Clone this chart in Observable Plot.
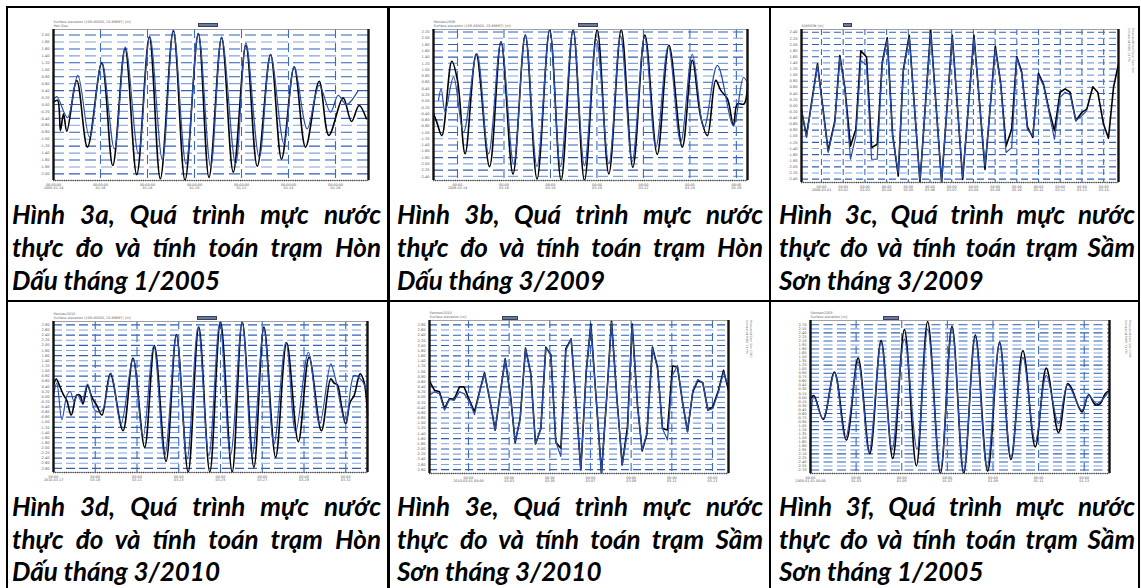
<!DOCTYPE html>
<html>
<head>
<meta charset="utf-8">
<script src="https://cdn.jsdelivr.net/npm/d3@7"></script>
<script src="https://cdn.jsdelivr.net/npm/@observablehq/plot@0.6"></script>
<style>
  html, body { margin: 0; padding: 0; background: #fff; }
  #page { position: relative; width: 1141px; height: 588px; overflow: hidden; background: #fff; }
  .bd { position: absolute; background: #000; }
  .cap { position: absolute; font-family: Lato, "Open Sans", sans-serif; font-style: italic; font-weight: 700;
         font-size: 26px; line-height: 33px; color: #000; }
  .cap div.j { text-align: justify; text-align-last: justify; }
  .cap div.l { text-align: left; }
  .chart { position: absolute; }
  .sw { position: absolute; height: 2px; background: #6c7aa3; border: 1px solid #3a3f55; }
  .side { position: absolute; writing-mode: vertical-rl; font-family: "DejaVu Sans", sans-serif; font-size: 3px;
          line-height: 3.4px; color: #777; white-space: nowrap; }
</style>
</head>
<body>
<div id="page"></div>
<script>
// ---------------- DATA (time in hours, water level in m) ----------------
const c1Levels = [2.0,1.8,1.6,1.4,1.2,1.0,0.8,0.6,0.4,0.2,0,-0.2,-0.4,-0.6,-0.8,-1.0,-1.2,-1.4,-1.6,-1.8,-2.0];
const c1TickHours = [0,48,96,144,192,240,288];
const c1TickLabels = ["00:00:00\n2005-01-14","00:00:00\n01-16","00:00:00\n01-18","00:00:00\n01-20","00:00:00\n01-22","00:00:00\n01-24","00:00:00\n01-26"];
const c1Measured = [[0,0.07],[4.1,0.12],[7.1,-0.75],[10.2,-0.27],[13.6,-0.77],[23.8,0.69],[34.7,-1.23],[49.3,1.19],[60.5,-1.76],[73.1,1.61],[85,-2.02],[97.9,1.94],[109.1,-2.14],[122.4,2.12],[134.3,-2.18],[147.9,2.04],[158.8,-2.10],[171.7,1.92],[183.6,-1.95],[196.5,1.70],[208.1,-1.78],[221.7,1.44],[232.9,-1.57],[245.8,1.08],[257.4,-1.23],[271.3,0.67],[281.2,-0.89],[295.8,0.19],[304.3,-0.49],[312.1,-0.03],[319.6,-0.41]];
const c1Computed = [[0,0.12],[3.4,0.23],[14.3,-0.38],[24.8,0.84],[36.7,-0.94],[49.3,1.22],[62.2,-1.28],[73.4,1.65],[86.7,-1.42],[98.3,1.96],[111.2,-1.60],[122.4,2.15],[135.3,-1.71],[147.9,2.04],[160.5,-1.79],[171.7,1.94],[186,-1.71],[196.5,1.77],[210.1,-1.52],[221.7,1.43],[235.3,-1.13],[245.8,1.10],[259.1,-0.70],[271.3,0.55],[282.9,-0.22],[290.7,0.26],[299.2,0],[311.1,0.40]];

const c2Levels = [2.2,2.0,1.8,1.6,1.4,1.2,1.0,0.8,0.6,0.4,0.2,0,-0.2,-0.4,-0.6,-0.8,-1.0,-1.2,-1.4,-1.6,-1.8,-2.0,-2.2,-2.4];
const c2TickHours = [0,48,96,144,192,240,288];
const c2TickLabels = ["00:00\n2009-03-14","00:00\n03-16","00:00\n03-18","00:00\n03-20","00:00\n03-22","00:00\n03-24","00:00\n03-26"];
const c2Measured = [[-24.8,-0.40],[-21.4,-0.67],[-16.2,-1.10],[-5.9,1.27],[0,0.66],[7.9,-1.68],[19.3,1.49],[33.1,-2.09],[44.9,1.89],[57.3,-2.32],[70.0,2.10],[82.1,-2.48],[95.2,2.27],[107,-2.52],[119.4,2.27],[131.1,-2.52],[144.2,2.27],[156.3,-2.32],[169.1,2.27],[181.1,-2.11],[193.5,2.10],[206.3,-1.70],[218.4,1.78],[232.2,-1.47],[242.5,1.30],[251.2,-0.51],[258.1,-1.10],[266.7,0.66],[271.9,0.34],[278.8,0.07],[285,-0.78],[289.1,-0.09],[296,-0.09],[299.5,0.55]];
const c2Computed = [[-19.7,0.02],[-16.9,0.39],[-12.8,-0.35],[-4.1,0.77],[6.2,-0.99],[20.0,1.51],[32.1,-1.68],[44.9,1.89],[58,-2.00],[70,2.10],[82.1,-2.08],[95.2,2.24],[106.3,-2.08],[119.4,2.24],[131.1,-2.06],[143.5,1.96],[156.3,-2.00],[168.4,2.07],[180.4,-1.92],[193.2,2.04],[204.9,-1.47],[217.7,1.75],[230.5,-1.31],[242.5,1.49],[254.6,-0.85],[268.4,1.14],[285,-0.78],[295.3,0.75],[299.5,0.58]];

const c3Levels = [2.4,2.2,2.0,1.8,1.6,1.4,1.2,1.0,0.8,0.6,0.4,0.2,0,-0.2,-0.4,-0.6,-0.8,-1.0,-1.2,-1.4,-1.6,-1.8,-2.0,-2.2,-2.4];
const c3TickHours = [0,24,48,72,96,120,144,168,192,216,240,264,288,312];
const c3TickLabels = ["00:00\n2009-03-01","00:00\n03-02","00:00\n03-03","00:00\n03-04","00:00\n03-05","00:00\n03-06","00:00\n03-07","00:00\n03-08","00:00\n03-09","00:00\n03-10","00:00\n03-11","00:00\n03-12","00:00\n03-13","00:00\n03-14"];
const c3Measured = [[-22.1,-0.16],[-16.6,-0.99],[-4.4,1.37],[7.4,-1.48],[14.8,-0.49],[20.3,1.64],[25.8,0.60],[32.1,-1.32],[38.0,-0.77],[43.5,1.79],[49.8,1.59],[55.4,-1.37],[61.6,-1.26],[67.2,1.42],[72.7,2.22],[78.6,-0.93],[84.9,-2.30],[90.4,1.15],[97.0,2.30],[108.9,-2.50],[120.7,2.48],[132.8,-2.50],[144.6,2.30],[156.1,-2.41],[168.6,2.30],[180.8,-2.08],[192.2,1.95],[198.2,0.71],[204.1,-1.32],[210.3,-0.77],[215.9,1.61],[221.4,1.10],[227.7,-0.69],[233.6,-1.04],[239.9,1.06],[245.4,0.71],[250.9,-0.05],[257.6,-0.82],[263.8,0.44],[269.4,0.55],[274.9,0.44],[281.2,-0.49],[287.8,-0.22],[293.4,-0.11],[300.0,0.62],[305.5,0.44],[311.8,-0.60],[317.3,-1.06],[322.9,0.60],[328.4,1.37]];
const c3Computed = [[-22.1,-0.10],[-16.6,-1.04],[-4.4,1.32],[7.4,-1.53],[14.8,-0.55],[20.3,1.59],[25.8,0.55],[32.1,-1.75],[38.0,-0.99],[43.5,1.48],[49.8,1.32],[55.4,-1.75],[61.6,-1.75],[67.2,1.37],[72.7,2.16],[78.6,-0.99],[84.9,-2.19],[90.4,1.10],[97.0,2.22],[108.9,-2.47],[120.7,2.36],[132.8,-2.47],[144.6,2.25],[156.1,-2.33],[168.6,2.22],[180.8,-1.97],[192.2,1.86],[198.2,0.66],[204.1,-1.53],[210.3,-1.37],[215.9,1.57],[221.4,1.04],[227.7,-0.77],[233.6,-0.99],[239.9,0.99],[245.4,0.66],[250.9,-0.11],[257.6,-1.10],[263.8,0.27],[269.4,0.44],[274.9,0.36],[281.2,-0.49],[287.8,-0.33],[293.4,-0.16]];

const c4Levels = [2.8,2.6,2.4,2.2,2.0,1.8,1.6,1.4,1.2,1.0,0.8,0.6,0.4,0.2,0,-0.2,-0.4,-0.6,-0.8,-1.0,-1.2,-1.4,-1.6,-1.8,-2.0,-2.2,-2.4,-2.6,-2.8];
const c4TickHours = [0,48,96,144,192,240,288,336];
const c4TickLabels = ["00:00\n2010-03-17","00:00\n03-19","00:00\n03-21","00:00\n03-23","00:00\n03-25","00:00\n03-27","00:00\n03-29","00:00\n03-31"];
const c4Measured = [[0,0.43],[3.1,0.69],[7.7,0.36],[11.5,0.07],[15.4,-0.16],[20.4,-0.72],[26.9,0.07],[30.7,0.04],[33.8,-0.29],[39.2,0.43],[44.2,-0.03],[49.9,-0.35],[55.7,-0.72],[65.3,0.89],[79.9,-1.33],[91.4,1.50],[104.8,-1.98],[116.0,1.99],[129.4,-2.53],[141.3,2.41],[154.8,-2.94],[167.0,2.71],[179.7,-2.94],[192.0,2.92],[205.4,-2.94],[217.0,2.92],[230.4,-2.76],[241.9,2.71],[255.4,-2.37],[268.0,2.10],[281.5,-1.76],[293.8,1.54],[308.0,-1.33],[318.7,0.69],[322.6,0.53],[326.4,0.46],[331.0,-0.35],[336.0,-1.07],[341.0,-0.22],[345.6,0.04],[352.5,0.89],[357.1,0.56],[361.0,-0.74]];
const c4Computed = [[0,0.04],[3.8,0.53],[9.6,-0.90],[15.4,0.04],[19.2,0.20],[23.8,-0.20],[27.6,0.07],[32.6,-0.20],[39.2,0.49],[48.0,-0.55],[55.7,-0.55],[66.0,0.92],[77.6,-1.07],[91.4,1.47],[102.9,-1.59],[115.2,1.99],[127.9,-2.30],[141.3,2.38],[153.6,-2.43],[166.3,2.71],[178.6,-2.30],[191.2,2.88],[203.5,-2.28],[217.0,2.90],[228.5,-2.28],[241.9,2.64],[253.4,-1.85],[267.3,2.12],[278.4,-1.39],[293.0,1.73],[306.0,-1.07],[318.7,1.28],[323.7,0.76],[336.0,-1.03],[345.6,0.82],[355.2,0.59],[361.0,0.10]];

const c5Levels = [2.8,2.6,2.4,2.2,2.0,1.8,1.6,1.4,1.2,1.0,0.8,0.6,0.4,0.2,0,-0.2,-0.4,-0.6,-0.8,-1.0,-1.2,-1.4,-1.6,-1.8,-2.0,-2.2,-2.4,-2.6,-2.8];
const c5TickHours = [0,48,96,144,192,240,288];
const c5TickLabels = ["00:00\n2010-03-01 00:00","00:00\n03-03","00:00\n03-05","00:00\n03-07","00:00\n03-09","00:00\n03-11","00:00\n03-13"];
const c5Measured = [[-46.0,0.62],[-40.1,0.27],[-34.2,0.21],[-28.3,-0.44],[-22.4,-0.05],[-16.9,-0.08],[-10.6,0.40],[-5.1,0.40],[1.2,-0.12],[7.1,-0.56],[13.0,0.21],[18.9,0.95],[25.6,-0.18],[31.5,-1.27],[37.4,0.14],[43.3,1.49],[50.0,-0.05],[55.1,-1.76],[61.0,-0.82],[67.3,1.90],[73.6,0.91],[79.1,-1.81],[85.4,-1.21],[91.3,1.94],[97.2,1.64],[103.1,-1.74],[109.0,-1.97],[114.9,1.87],[121.2,2.26],[127.1,-0.31],[132.6,-2.81],[138.9,0.97],[144.4,2.83],[150.7,-0.05],[157.0,-2.94],[163.3,0.08],[168.8,2.96],[175.1,0.01],[181.4,-2.62],[187.7,-1.14],[193.2,2.83],[199.5,-0.31],[205.0,-2.08],[210.5,-1.44],[217.2,1.94],[223.1,1.17],[229.0,-1.21],[234.9,-1.27],[240.8,1.21],[246.7,1.17],[252.6,-0.18],[258.5,-1.33],[264.8,0.21],[270.7,0.65],[276.6,0.56],[282.5,-0.50],[288.4,-0.37],[295.1,0.27],[301.0,1.04],[306.9,0.27]];
const c5Computed = [[-46.0,0.08],[-40.1,0.21],[-34.2,0.14],[-28.3,-0.50],[-22.4,-0.08],[-16.9,-0.12],[-10.6,0.21],[-5.1,0.14],[1.2,-0.18],[7.1,-0.67],[13.0,0.18],[18.9,0.91],[25.6,-0.18],[31.5,-1.27],[37.4,0.12],[43.3,1.46],[50.0,-0.08],[55.1,-1.72],[61.0,-0.85],[67.3,1.87],[73.6,0.87],[79.1,-1.81],[85.4,-1.23],[91.3,1.90],[97.2,1.68],[103.1,-1.72],[109.0,-2.29],[114.9,1.81],[121.2,2.26],[127.1,-0.33],[132.6,-2.81],[138.9,0.95],[144.4,2.77],[150.7,-0.08],[157.0,-2.94],[163.3,0.05],[168.8,2.90],[175.1,-0.01],[181.4,-2.62],[187.7,-1.33],[193.2,2.77],[199.5,-0.33],[205.0,-2.04],[210.5,-1.40],[217.2,1.90],[223.1,1.10],[229.0,-1.21],[234.9,-1.65],[240.8,0.85],[246.7,1.23],[252.6,-0.18],[258.5,-1.33],[264.8,0.27],[270.7,0.69],[276.6,0.56],[282.5,-0.50],[288.4,-0.44],[295.1,0.21],[301.0,0.97],[306.9,0.40]];

const c6Levels = [2.7,2.55,2.4,2.25,2.1,1.95,1.8,1.65,1.5,1.35,1.2,1.05,0.9,0.75,0.6,0.45,0.3,0.15,0,-0.15,-0.3,-0.45,-0.6,-0.75,-0.9,-1.05,-1.2,-1.35,-1.5,-1.65,-1.8,-1.95,-2.1,-2.25,-2.4,-2.55,-2.7];
const c6TickHours = [0,48,96,144,192,240,288];
const c6TickLabels = ["00:00\n2005-01-01 00:00","00:00\n01-03","00:00\n01-05","00:00\n01-07","00:00\n01-09","00:00\n01-11","00:00\n01-13"];
const c6Measured = [[0,-0.05],[3.5,0.07],[13.3,-0.82],[25.2,0.94],[37.8,-1.59],[50.1,1.46],[62.4,-2.09],[74.3,2.11],[86.5,-2.27],[98.8,2.52],[111.4,-2.54],[123.3,2.82],[136.7,-2.82],[148.9,2.64],[161.2,-2.82],[173.4,2.32],[186.4,-2.74],[199.0,2.05],[210.9,-2.31],[223.5,1.74],[236.5,-1.84],[248.1,1.09],[261.0,-1.31],[270.5,0.51],[274.0,0.38],[285.6,-0.54],[292.6,0.10],[299.6,-0.27],[304.9,-0.23],[310.1,0.14],[314.6,0.26]];
const c6Computed = [[0,-2.82],[3.5,0.01],[13.3,-0.79],[25.2,0.91],[36.8,-1.53],[50.1,1.31],[61.7,-2.03],[74.3,2.05],[85.8,-1.93],[98.8,2.17],[112.1,-1.93],[123.3,2.54],[136.7,-2.70],[148.9,2.54],[161.2,-2.74],[173.4,2.24],[185.7,-2.64],[199.0,1.99],[210.9,-2.21],[223.5,1.49],[236.5,-1.65],[248.1,0.82],[261.0,-0.98],[270.5,0.47],[285.6,-0.48],[292.6,0.07],[301.3,-0.23],[314.6,0.26]];

const captions = [
  ["Hình 3a, Quá trình mực nước", "thực đo và tính toán trạm Hòn", "Dấu tháng 1/2005"],
  ["Hình 3b, Quá trình mực nước", "thực đo và tính toán trạm Hòn", "Dấu tháng 3/2009"],
  ["Hình 3c, Quá trình mực nước", "thực đo và tính toán trạm Sầm", "Sơn tháng 3/2009"],
  ["Hình 3d, Quá trình mực nước", "thực đo và tính toán trạm Hòn", "Dấu tháng 3/2010"],
  ["Hình 3e, Quá trình mực nước", "thực đo và tính toán trạm Sầm", "Sơn tháng 3/2010"],
  ["Hình 3f, Quá trình mực nước", "thực đo và tính toán trạm Sầm", "Sơn tháng 1/2005"]
];
const chartTitles = [
  "Surface elevation (106.80000, 20.66667) [m]\nHon Dau",
  "Hondau2009\nSurface elevation (106.80000, 20.66667) [m]",
  "SAMSON [m]",
  "Hondau2010\nSurface elevation (106.80000, 20.66667) [m]",
  "Samson2010\nSurface elevation [m]",
  "Samson2005\nSurface elevation [m]"
];

// ---------------- LAYOUT ----------------
const page = document.getElementById("page");
function box(cls, l, t, w, h) {
  const d = document.createElement("div");
  d.className = cls;
  Object.assign(d.style, {left: l + "px", top: t + "px", width: w + "px", height: h + "px"});
  page.appendChild(d);
  return d;
}
// table borders
box("bd", 6, 5.5, 1134, 2.2);
box("bd", 6, 300, 1134, 2.2);
box("bd", 6, 5.5, 2.4, 600);
box("bd", 387.4, 5.5, 2.2, 600);
box("bd", 769, 5.5, 2.2, 600);
box("bd", 1137.5, 5.5, 2.2, 600);

// captions
const capCols = [[12, 369], [397, 366], [779, 356]];
captions.forEach((lines, k) => {
  const [l, w] = capCols[k % 3];
  const t = k < 3 ? 198 : 490;
  const d = box("cap", l, t, w, 97);
  if (k >= 3) d.style.lineHeight = "32.5px";
  lines.forEach((s, i) => {
    const ln = document.createElement("div");
    ln.className = i < lines.length - 1 ? "j" : "l";
    ln.textContent = s;
    d.appendChild(ln);
  });
});

function chart(cfg) {
  const {L, T, R, B, xDomain, yDomain, levels, ticks, labels, measured, computed, curve, dash, vdash, title} = cfg;
  const ml = 26, mt = 12, mr = 4, mb = 14;
  const svg = Plot.plot({
    width: (R - L) + ml + mr,
    height: (B - T) + mt + mb,
    marginLeft: ml, marginTop: mt, marginRight: mr, marginBottom: mb,
    x: {domain: xDomain, axis: null},
    y: {domain: yDomain, axis: null},
    style: {background: "transparent", fontFamily: "DejaVu Sans, sans-serif", overflow: "visible"},
    marks: [
      Plot.ruleY(levels.filter((d, i) => i % 2 === 0), {stroke: "#2d5fb6", strokeWidth: 1.1, strokeDasharray: dash}),
      Plot.ruleY(levels.filter((d, i) => i % 2 === 1), {stroke: "#82a3da", strokeWidth: 1.1, strokeDasharray: dash}),
      Plot.ruleX(ticks, {stroke: "#3b6cc2", strokeWidth: 1.1, strokeDasharray: vdash}),
      Plot.line(measured, {x: d => d[0], y: d => d[1], stroke: "#000", strokeWidth: 1.6, curve}),
      Plot.line(computed, {x: d => d[0], y: d => d[1], stroke: "#2b4faf", strokeWidth: 1.2, curve}),
      Plot.frame({stroke: "#8a8a8a", strokeWidth: 0.8}),
      Plot.ruleY([yDomain[0]], {stroke: "#333", strokeWidth: 1.6, strokeDasharray: "0.8,1.4"}),
      Plot.ruleX(xDomain, {stroke: "#111", strokeWidth: 2.4}),
      Plot.text(levels, {x: () => xDomain[0], y: d => d, text: d => d.toFixed(2), textAnchor: "end", dx: -4, fontSize: 3.6, fill: "#555"}),
      Plot.text(ticks, {x: d => d, y: () => yDomain[0], text: (d, i) => labels[i], lineAnchor: "top", dy: 3, fontSize: 3.4, fill: "#555"}),
      Plot.text([title], {frameAnchor: "top-left", text: d => d, textAnchor: "start", lineAnchor: "bottom", dy: -3, fontSize: 3.4, fill: "#666"})
    ]
  });
  const holder = box("chart", L - ml, T - mt, (R - L) + ml + mr, (B - T) + mt + mb);
  holder.appendChild(svg);
}

chart({L: 53, T: 29, R: 368, B: 180, xDomain: [0, 321.7], yDomain: [-2.19, 2.16], levels: c1Levels,
  ticks: c1TickHours, labels: c1TickLabels, measured: c1Measured, computed: c1Computed,
  curve: "catmull-rom", dash: "11,5", vdash: "9,5", title: chartTitles[0]});
chart({L: 433, T: 29, R: 747, B: 180, xDomain: [-24.8, 299.5], yDomain: [-2.53, 2.28], levels: c2Levels,
  ticks: c2TickHours, labels: c2TickLabels, measured: c2Measured, computed: c2Computed,
  curve: "catmull-rom", dash: "10,5", vdash: "9,5", title: chartTitles[1]});
chart({L: 801, T: 29, R: 1118, B: 182, xDomain: [-22.1, 328.4], yDomain: [-2.51, 2.49], levels: c3Levels,
  ticks: c3TickHours, labels: c3TickLabels, measured: c3Measured, computed: c3Computed,
  curve: "linear", dash: "7,4", vdash: "6,4", title: chartTitles[2]});
chart({L: 53, T: 321, R: 367, B: 472, xDomain: [0, 361], yDomain: [-2.96, 2.93], levels: c4Levels,
  ticks: c4TickHours, labels: c4TickLabels, measured: c4Measured, computed: c4Computed,
  curve: "catmull-rom", dash: "9,4", vdash: "8,5", title: chartTitles[3]});
chart({L: 429, T: 320, R: 728, B: 473, xDomain: [-46, 306.9], yDomain: [-2.95, 2.97], levels: c5Levels,
  ticks: c5TickHours, labels: c5TickLabels, measured: c5Measured, computed: c5Computed,
  curve: "linear", dash: "8,4", vdash: "8,5", title: chartTitles[4]});
chart({L: 810, T: 320, R: 1109, B: 473, xDomain: [0, 314.6], yDomain: [-2.83, 2.86], levels: c6Levels,
  ticks: c6TickHours, labels: c6TickLabels, measured: c6Measured, computed: c6Computed,
  curve: "catmull-rom", dash: "9,4.5", vdash: "8,5", title: chartTitles[5]});

// legend swatches
[[198, 22.5, 18], [578, 22.5, 18], [843, 22.5, 7], [197, 316, 18], [502, 315.5, 14], [883, 315.5, 14]]
  .forEach(([l, t, w]) => box("sw", l, t, w, 2));

// side notes
[[1127, 28, "Measured  Hon Dau / Sam Son", "Simulated  MIKE 21 FM"],
 [745, 320, "Measured  Sam Son 2010", "Simulated  MIKE 21 FM"],
 [1124, 320, "Measured  Sam Son 2005", "Simulated  MIKE 21 FM"]]
  .forEach(([l, t, a, b]) => {
    const d = document.createElement("div");
    d.className = "side";
    d.style.left = l + "px"; d.style.top = t + "px";
    d.innerHTML = a + "<br>" + b;
    page.appendChild(d);
  });
</script>
</body>
</html>
